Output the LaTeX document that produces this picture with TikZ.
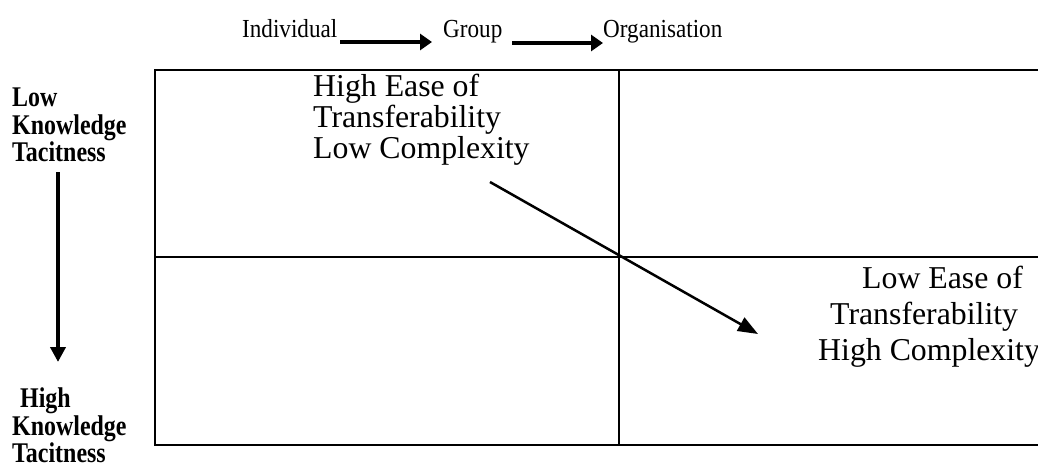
\documentclass[tikz,border=0pt]{standalone}
\usepackage{fontspec}
\setmainfont{Liberation Serif}
\newfontfamily\narrowserif[FakeStretch=0.84]{Liberation Serif}
\newfontfamily\topserif[FakeStretch=0.89]{Liberation Serif}
\usetikzlibrary{arrows.meta}
\tikzset{
  toptext/.style={font=\topserif\fontsize{26}{30}\selectfont, inner sep=0pt, anchor=base west},
  sidetext/.style={font=\narrowserif\bfseries\fontsize{28.5}{27.5}\selectfont, inner sep=0pt, anchor=north west, align=left},
  bigtext/.style={font=\fontsize{31.8}{31}\selectfont, inner sep=0pt, anchor=north west, align=left},
  bigtextb/.style={font=\fontsize{31.8}{36}\selectfont, inner sep=0pt, anchor=north west, align=left},
  gridline/.style={line width=2.2pt},
  flowarrow/.style={line width=4.5pt, -{Triangle[length=12pt,width=16pt]}},
  vertarrow/.style={line width=4pt, -{Triangle[length=15pt,width=15pt]}},
  diagarrow/.style={line width=2.5pt, -{Triangle[length=20pt,width=15pt]}}
}
\begin{document}
\begin{tikzpicture}[x=1pt,y=-1pt]
\useasboundingbox (0,0) rectangle (1038,466);
% top flow
\node[toptext] (ind) at (242,37) {Individual};
\node[toptext] (grp) at (443,37) {Group};
\node[toptext] (org) at (603,37) {Organisation};
\coordinate (a1s) at (340,42);
\coordinate (a1e) at (432,42);
\coordinate (a2s) at (512,43);
\coordinate (a2e) at (603,43);
\draw[flowarrow] (a1s) -- (a1e);
\draw[flowarrow] (a2s) -- (a2e);
% grid
\coordinate (tl) at (155,70);
\coordinate (tr) at (1040,70);
\coordinate (bl) at (155,445);
\coordinate (br) at (1040,445);
\coordinate (ml) at (155,257);
\coordinate (mr) at (1040,257);
\coordinate (mt) at (619,70);
\coordinate (mb) at (619,445);
\draw[gridline] (tr) -- (tl) -- (bl) -- (br);
\draw[gridline] (ml) -- (mr);
\draw[gridline] (mt) -- (mb);
% side labels
\node[sidetext] (lowk) at (12,88) {Low\\Knowledge\\Tacitness};
\node[sidetext] (highk) at (12,388) {\hspace*{8pt}High\\Knowledge\\Tacitness};
\coordinate (vs) at (58,172);
\coordinate (ve) at (58,362);
\draw[vertarrow] (vs) -- (ve);
% quadrant texts
\node[bigtext] (hq) at (313,74) {High Ease of\\Transferability\\Low Complexity};
\node[bigtextb] (lq) at (818,266) {\hspace*{44pt}Low Ease of\\\hspace*{12pt}Transferability\\High Complexity};
\coordinate (ds) at (490,182);
\coordinate (de) at (758,334);
\draw[diagarrow] (ds) -- (de);
\end{tikzpicture}
\end{document}
